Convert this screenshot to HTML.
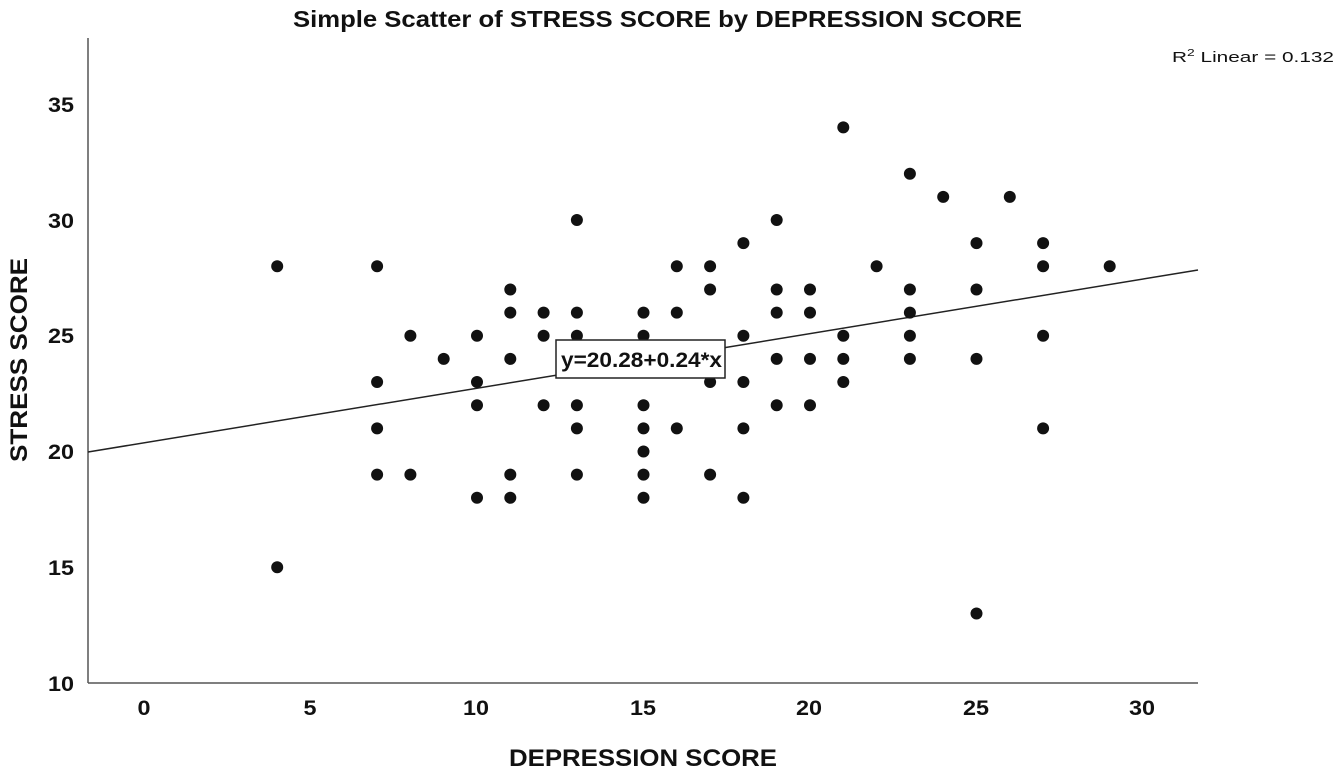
<!DOCTYPE html>
<html><head><style>
body{margin:0;background:#fff;}
svg{display:block;font-family:"Liberation Sans",Arial,sans-serif;}
</style></head><body>
<svg width="1342" height="774" viewBox="0 0 1342 774">
<rect width="1342" height="774" fill="#fff"/>
<text x="293" y="27" textLength="729" lengthAdjust="spacingAndGlyphs" font-size="23" font-weight="bold" fill="#111">Simple Scatter of STRESS SCORE by DEPRESSION SCORE</text>
<text x="1172" y="62" font-size="15" fill="#111" textLength="162" lengthAdjust="spacingAndGlyphs">R<tspan font-size="10" dy="-6">2</tspan><tspan dy="6"> Linear = 0.132</tspan></text>
<line x1="88" y1="38" x2="88" y2="683" stroke="#555" stroke-width="1.5"/>
<line x1="88" y1="683" x2="1198" y2="683" stroke="#555" stroke-width="1.5"/>
<g font-size="21" font-weight="bold" fill="#111" text-anchor="end">
<text x="74" y="691" textLength="26" lengthAdjust="spacingAndGlyphs">10</text><text x="74" y="575" textLength="26" lengthAdjust="spacingAndGlyphs">15</text><text x="74" y="459" textLength="26" lengthAdjust="spacingAndGlyphs">20</text><text x="74" y="343" textLength="26" lengthAdjust="spacingAndGlyphs">25</text><text x="74" y="228" textLength="26" lengthAdjust="spacingAndGlyphs">30</text><text x="74" y="112" textLength="26" lengthAdjust="spacingAndGlyphs">35</text>
</g>
<g font-size="21" font-weight="bold" fill="#111" text-anchor="middle">
<text x="144" y="715" textLength="13" lengthAdjust="spacingAndGlyphs">0</text><text x="310" y="715" textLength="13" lengthAdjust="spacingAndGlyphs">5</text><text x="476" y="715" textLength="26" lengthAdjust="spacingAndGlyphs">10</text><text x="643" y="715" textLength="26" lengthAdjust="spacingAndGlyphs">15</text><text x="809" y="715" textLength="26" lengthAdjust="spacingAndGlyphs">20</text><text x="976" y="715" textLength="26" lengthAdjust="spacingAndGlyphs">25</text><text x="1142" y="715" textLength="26" lengthAdjust="spacingAndGlyphs">30</text>
</g>
<text x="509" y="766" textLength="268" lengthAdjust="spacingAndGlyphs" font-size="24" font-weight="bold" fill="#111">DEPRESSION SCORE</text>
<text transform="translate(27,462) rotate(-90)" textLength="204" lengthAdjust="spacingAndGlyphs" font-size="24" font-weight="bold" fill="#111">STRESS SCORE</text>
<line x1="88" y1="452" x2="1198" y2="270" stroke="#222" stroke-width="1.5"/>
<g fill="#111" id="pts"></g>
<rect x="556" y="340" width="169" height="38" fill="#fff" stroke="#222" stroke-width="1.5"/>
<text x="561" y="367" textLength="161" lengthAdjust="spacingAndGlyphs" font-size="21" font-weight="bold" fill="#111">y=20.28+0.24*x</text>
</svg>
<script>
var d=[[4,28],[4,15],[7,28],[7,23],[7,21],[7,19],[8,25],[8,19],[9,24],[10,25],[10,23],[10,22],[10,18],[11,27],[11,26],[11,24],[11,19],[11,18],[12,26],[12,25],[12,22],[13,30],[13,26],[13,25],[13,24],[13,22],[13,21],[13,19],[15,26],[15,25],[15,22],[15,21],[15,20],[15,19],[15,18],[16,28],[16,26],[16,21],[17,28],[17,27],[17,23],[17,19],[18,29],[18,25],[18,23],[18,21],[18,18],[19,30],[19,27],[19,26],[19,24],[19,22],[20,27],[20,26],[20,24],[20,22],[21,34],[21,25],[21,24],[21,23],[22,28],[23,32],[23,27],[23,26],[23,25],[23,24],[24,31],[25,29],[25,27],[25,24],[25,13],[26,31],[27,29],[27,28],[27,25],[27,21],[29,28]];
var g=document.getElementById('pts'),s='';
d.forEach(function(p){s+='<circle cx="'+(144+33.3*p[0])+'" cy="'+(683-23.15*(p[1]-10))+'" r="6"/>';});
g.innerHTML=s;
</script>
</body></html>
